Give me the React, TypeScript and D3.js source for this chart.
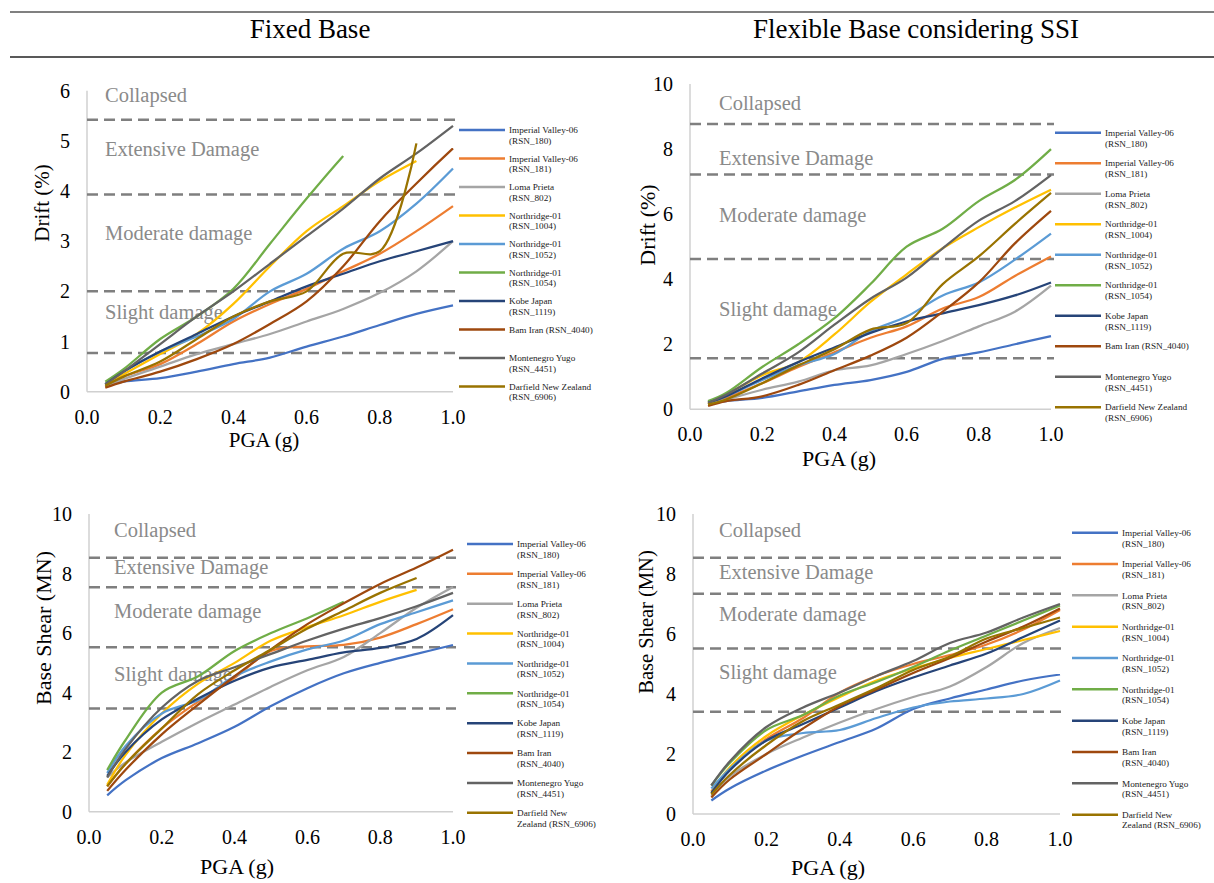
import * as React from 'react';
import * as d3 from 'd3';

// PGA steps used by every analysis (g)
const pga = [0.05, 0.1, 0.2, 0.3, 0.4, 0.5, 0.6, 0.7, 0.8, 0.9, 1.0];

const recordsTop = [
  ['Imperial Valley-06', '(RSN_180)'],
  ['Imperial Valley-06', '(RSN_181)'],
  ['Loma Prieta', '(RSN_802)'],
  ['Northridge-01', '(RSN_1004)'],
  ['Northridge-01', '(RSN_1052)'],
  ['Northridge-01', '(RSN_1054)'],
  ['Kobe Japan', '(RSN_1119)'],
  ['Bam Iran (RSN_4040)'],
  ['Montenegro Yugo', '(RSN_4451)'],
  ['Darfield New Zealand', '(RSN_6906)'],
];

const recordsBottom = [
  ['Imperial Valley-06', '(RSN_180)'],
  ['Imperial Valley-06', '(RSN_181)'],
  ['Loma Prieta', '(RSN_802)'],
  ['Northridge-01', '(RSN_1004)'],
  ['Northridge-01', '(RSN_1052)'],
  ['Northridge-01', '(RSN_1054)'],
  ['Kobe Japan', '(RSN_1119)'],
  ['Bam Iran', '(RSN_4040)'],
  ['Montenegro Yugo', '(RSN_4451)'],
  ['Darfield New', 'Zealand (RSN_6906)'],
];

const colors = ['#4472C4', '#ED7D31', '#A5A5A5', '#FFC000', '#5B9BD5', '#70AD47', '#264478', '#9E480E', '#636363', '#997300'];

const zoneNames = ['Slight damage', 'Moderate damage', 'Extensive Damage', 'Collapsed'];

// drift (%) – fixed base
const fixedDrift = [
  [0.12, 0.2, 0.27, 0.4, 0.55, 0.68, 0.9, 1.1, 1.33, 1.55, 1.72],
  [0.1, 0.3, 0.55, 0.95, 1.4, 1.75, 2.05, 2.4, 2.75, 3.2, 3.7],
  [0.1, 0.25, 0.5, 0.75, 0.95, 1.15, 1.4, 1.65, 1.97, 2.4, 3.0],
  [0.15, 0.35, 0.75, 1.15, 1.75, 2.5, 3.2, 3.7, 4.2, 4.6],
  [0.15, 0.4, 0.8, 1.1, 1.45, 2.0, 2.35, 2.85, 3.2, 3.75, 4.45],
  [0.2, 0.45, 1.05, 1.5, 2.05, 2.95, 3.85, 4.7],
  [0.15, 0.4, 0.8, 1.15, 1.5, 1.8, 2.1, 2.35, 2.6, 2.8, 3.0],
  [0.08, 0.2, 0.4, 0.65, 0.95, 1.35, 1.8, 2.5, 3.4, 4.15, 4.85],
  [0.15, 0.4, 0.95, 1.5, 2.0, 2.55, 3.1, 3.65, 4.25, 4.75, 5.3],
  [0.12, 0.3, 0.6, 1.05, 1.5, 1.8, 2.0, 2.75, 2.8, 4.95],
];

// drift (%) – flexible base with SSI
const flexDrift = [
  [0.15, 0.25, 0.35, 0.55, 0.75, 0.9, 1.15, 1.55, 1.75, 2.0, 2.25],
  [0.15, 0.35, 0.8, 1.3, 1.75, 2.2, 2.55, 3.1, 3.45, 4.1, 4.7],
  [0.15, 0.3, 0.6, 0.85, 1.2, 1.35, 1.7, 2.1, 2.55, 3.0, 3.8],
  [0.2, 0.45, 1.05, 1.45, 2.3, 3.3, 4.15, 4.95, 5.6, 6.2, 6.75],
  [0.2, 0.4, 0.9, 1.35, 1.7, 2.4, 2.85, 3.5, 3.9, 4.6, 5.4],
  [0.25, 0.5, 1.3, 2.0, 2.8, 3.85, 5.0, 5.55, 6.4, 7.05, 8.0],
  [0.2, 0.4, 0.95, 1.45, 1.9, 2.35, 2.7, 2.95, 3.2, 3.5, 3.9],
  [0.1, 0.25, 0.4, 0.75, 1.2, 1.65, 2.2, 3.0, 3.9, 5.1, 6.1],
  [0.2, 0.45, 1.1, 1.75, 2.6, 3.4, 4.05, 4.95, 5.8, 6.4, 7.2],
  [0.15, 0.3, 0.8, 1.35, 1.85, 2.45, 2.65, 3.85, 4.7, 5.7, 6.65],
];

// base shear (MN) – fixed base
const fixedShear = [
  [0.55, 1.05, 1.8, 2.3, 2.85, 3.55, 4.15, 4.65, 5.0, 5.3, 5.6],
  [0.85, 1.6, 2.8, 3.7, 4.5, 5.4, 5.55, 5.6, 5.85, 6.3, 6.8],
  [1.15, 1.65, 2.35, 3.0, 3.6, 4.2, 4.75, 5.2, 6.0, 6.85, 7.55],
  [0.9, 1.9, 3.3, 4.3, 5.0, 5.75, 6.2, 6.6, 7.05, 7.45],
  [1.3, 2.2, 3.3, 3.75, 4.55, 5.05, 5.45, 5.75, 6.3, 6.7, 7.1],
  [1.4, 2.4, 4.0, 4.55, 5.4, 6.0, 6.5, 7.05],
  [1.2, 2.0, 3.1, 3.8, 4.4, 4.85, 5.1, 5.35, 5.5, 5.8, 6.6],
  [0.7, 1.4, 2.6, 3.6, 4.55, 5.45, 6.3, 7.0, 7.65, 8.2, 8.8],
  [1.15, 2.1, 3.5, 4.4, 4.85, 5.3, 5.75, 6.15, 6.5, 6.9, 7.35],
  [0.85, 1.6, 2.8, 3.95, 4.75, 5.45, 6.15, 6.75, 7.35, 7.85],
];

// base shear (MN) – flexible base with SSI
const flexShear = [
  [0.45, 0.85, 1.45, 1.95, 2.4, 2.85, 3.5, 3.85, 4.15, 4.45, 4.65],
  [0.75, 1.5, 2.5, 3.2, 4.05, 4.6, 5.0, 5.3, 5.65, 6.15, 6.8],
  [0.6, 1.25, 2.0, 2.55, 3.05, 3.5, 3.9, 4.25, 4.9, 5.7, 6.2],
  [0.7, 1.55, 2.6, 3.3, 3.9, 4.45, 4.85, 5.2, 5.5, 5.8, 6.1],
  [0.85, 1.5, 2.45, 2.7, 2.8, 3.2, 3.55, 3.75, 3.85, 4.0, 4.45],
  [0.95, 1.7, 2.8, 3.3, 3.95, 4.4, 4.9, 5.45, 5.95, 6.45, 6.95],
  [0.7, 1.45, 2.45, 3.0, 3.55, 4.1, 4.55, 4.95, 5.35, 5.9, 6.45],
  [0.55, 1.15, 2.0, 2.85, 3.6, 4.15, 4.7, 5.2, 5.75, 6.25, 6.85],
  [0.95, 1.75, 2.9, 3.55, 4.05, 4.6, 5.1, 5.7, 6.05, 6.55, 7.0],
  [0.65, 1.3, 2.3, 3.1, 3.65, 4.2, 4.8, 5.25, 5.85, 6.2, 6.55],
];

// damage state thresholds (slight, moderate, extensive, collapse)
const fixedDriftLimits = [0.77, 2.0, 3.93, 5.42];
const flexDriftLimits = [1.57, 4.62, 7.22, 8.77];
const fixedShearLimits = [3.47, 5.52, 7.54, 8.53];
const flexShearLimits = [3.41, 5.52, 7.34, 8.54];

const FONT = '"Liberation Serif", "Times New Roman", serif';

interface PanelProps {
  data: number[][];
  limits: number[];
  zoneAt: number[];
  names: string[][];
  x0: number; x1: number; yBottom: number; yTop: number;
  yMax: number; yStep: number;
  yLabel: string; yLabelX: number; yLabelY: number; yLabelSize: number;
  xLabelX: number; xLabelY: number; xLabelSize: number;
  zoneX: number;
  legX: number; legY: number; legStep: number;
}

const Panel: React.FC<PanelProps> = p => {
  const x = d3.scaleLinear().domain([0, 1]).range([p.x0, p.x1]);
  const y = d3.scaleLinear().domain([0, p.yMax]).range([p.yBottom, p.yTop]);
  const line = d3.line<number>()
    .x((_, i) => x(pga[i]))
    .y(d => y(d))
    .curve(d3.curveCatmullRom.alpha(0.5));
  const yTicks = d3.range(0, p.yMax + 0.001, p.yStep);
  const xTicks = d3.range(0, 1.0001, 0.2);

  return (
    <g fontFamily={FONT}>
      <line x1={p.x0} x2={p.x0} y1={p.yTop} y2={p.yBottom} stroke="#d0d0d0" strokeWidth={1.5} />
      <line x1={p.x0} x2={p.x1} y1={p.yBottom} y2={p.yBottom} stroke="#d0d0d0" strokeWidth={1.5} />
      {yTicks.map(t => (
        <text key={'y' + t} x={p.x0 - 17} y={y(t)} dy="0.35em" textAnchor="end" fontSize={20} fill="#000">{t}</text>
      ))}
      {xTicks.map(t => (
        <text key={'x' + t} x={x(t)} y={p.yBottom + 25} dy="0.35em" textAnchor="middle" fontSize={20} fill="#000">{t.toFixed(1)}</text>
      ))}
      {p.limits.map((l, i) => (
        <line key={'l' + i} x1={p.x0} x2={p.x1 + 3} y1={y(l)} y2={y(l)} stroke="#7f7f7f" strokeWidth={2.5} strokeDasharray="11,6" />
      ))}
      {zoneNames.map((z, i) => (
        <text key={'z' + i} x={p.zoneX} y={y(p.zoneAt[i])} dy="0.35em" fontSize={20.5} fill="#8a8a8a">{z}</text>
      ))}
      {p.data.map((s, i) => (
        <path key={'s' + i} d={line(s) || ''} fill="none" stroke={colors[i]} strokeWidth={2.25} />
      ))}
      <text transform={`translate(${p.yLabelX},${p.yLabelY}) rotate(-90)`} textAnchor="middle" dy="0.35em" fontSize={p.yLabelSize} fill="#000">{p.yLabel}</text>
      <text x={p.xLabelX} y={p.xLabelY} dy="0.35em" textAnchor="middle" fontSize={p.xLabelSize} fill="#000">PGA (g)</text>
      {p.names.map((n, i) => {
        const ly = p.legY + i * p.legStep;
        return (
          <g key={'g' + i}>
            <line x1={p.legX} x2={p.legX + 46} y1={ly} y2={ly} stroke={colors[i]} strokeWidth={2.5} />
            {n.map((t, j) => (
              <text key={j} x={p.legX + 50} y={ly + j * 10.6} dy="0.35em" fontSize={9.2} fill="#222">{t}</text>
            ))}
          </g>
        );
      })}
    </g>
  );
};

export default function App() {
  return (
    <svg width={1214} height={883} style={{ position: 'absolute', left: 0, top: 0, background: '#fff' }}>
      <rect width={1214} height={883} fill="#fff" />
      <line x1={10} x2={1214} y1={12} y2={12} stroke="#808080" strokeWidth={2} />
      <line x1={10} x2={1214} y1={57} y2={57} stroke="#222" strokeWidth={1.5} />
      <text x={310} y={38} textAnchor="middle" fontFamily={FONT} fontSize={27}>Fixed Base</text>
      <text x={916} y={38} textAnchor="middle" fontFamily={FONT} fontSize={27}>Flexible Base considering SSI</text>

      <Panel data={fixedDrift} limits={fixedDriftLimits} zoneAt={[1.6, 3.16, 4.84, 5.91]} names={recordsTop}
        x0={87} x1={453} yBottom={391.7} yTop={90.7} yMax={6} yStep={1}
        yLabel="Drift (%)" yLabelX={42} yLabelY={203} yLabelSize={21}
        xLabelX={264} xLabelY={440} xLabelSize={21}
        zoneX={105} legX={459} legY={130} legStep={28.5} />

      <Panel data={flexDrift} limits={flexDriftLimits} zoneAt={[3.08, 5.99, 7.73, 9.42]} names={recordsTop}
        x0={690} x1={1051} yBottom={409.3} yTop={84} yMax={10} yStep={2}
        yLabel="Drift (%)" yLabelX={647} yLabelY={225} yLabelSize={22}
        xLabelX={839} xLabelY={458} xLabelSize={22}
        zoneX={719} legX={1055} legY={132.7} legStep={30.5} />

      <Panel data={fixedShear} limits={fixedShearLimits} zoneAt={[4.63, 6.74, 8.22, 9.46]} names={recordsBottom}
        x0={89} x1={453} yBottom={811.7} yTop={514} yMax={10} yStep={2}
        yLabel="Base Shear (MN)" yLabelX={43} yLabelY={628} yLabelSize={22}
        xLabelX={237} xLabelY={866} xLabelSize={22}
        zoneX={114} legX={467} legY={544} legStep={29.86} />

      <Panel data={flexShear} limits={flexShearLimits} zoneAt={[4.73, 6.67, 8.07, 9.47]} names={recordsBottom}
        x0={693} x1={1060} yBottom={814} yTop={514} yMax={10} yStep={2}
        yLabel="Base Shear (MN)" yLabelX={646} yLabelY={622} yLabelSize={20.5}
        xLabelX={828} xLabelY={867} xLabelSize={22}
        zoneX={719} legX={1072} legY={532.7} legStep={31.33} />
    </svg>
  );
}
